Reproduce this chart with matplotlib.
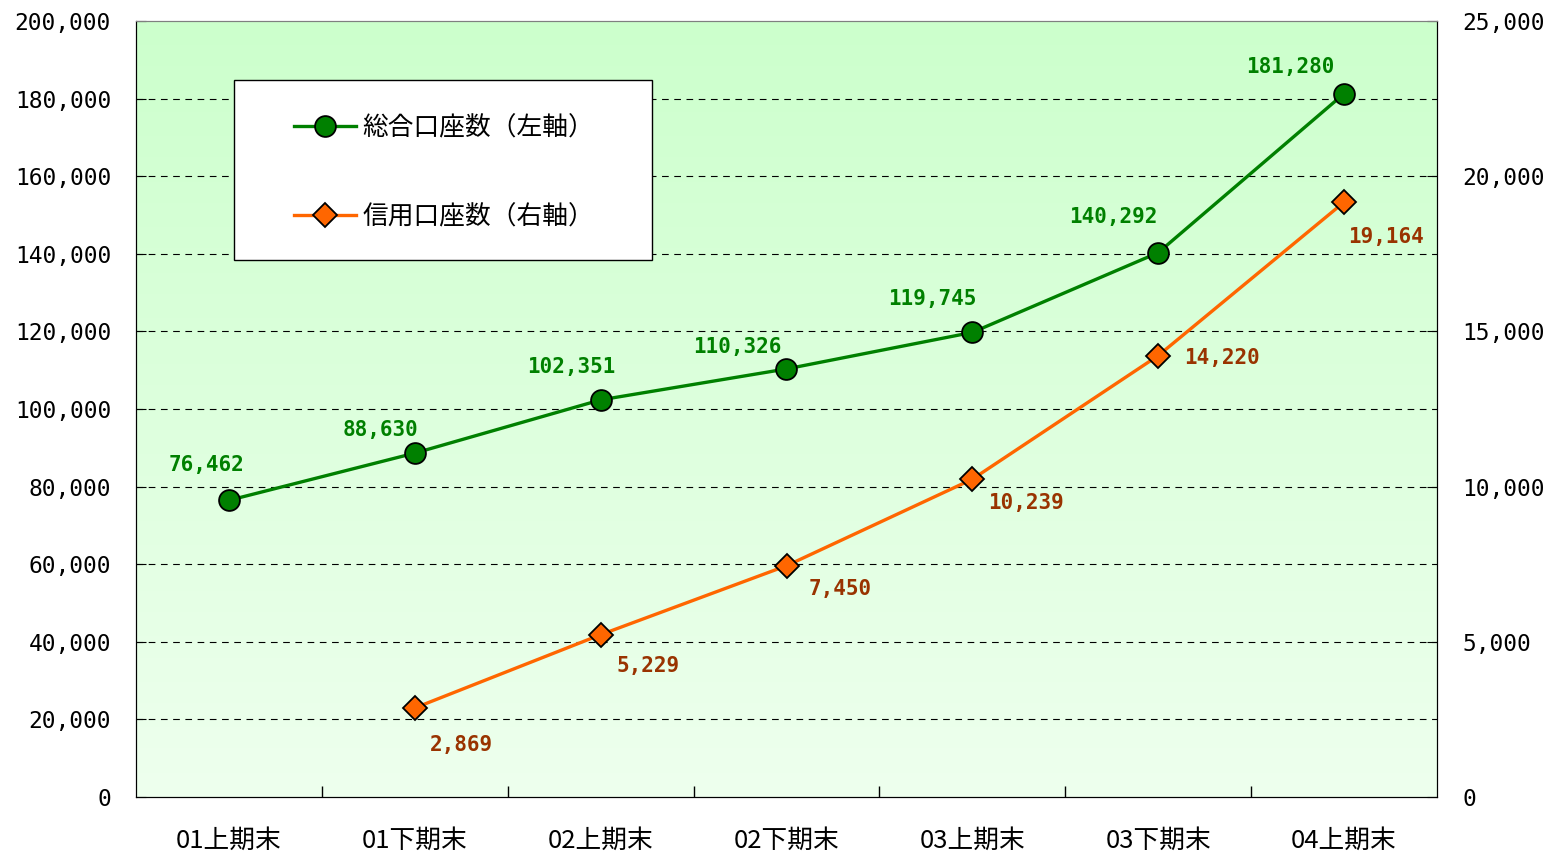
import matplotlib
matplotlib.use('Agg')
import matplotlib.pyplot as plt
from matplotlib.patches import Rectangle
import numpy as np

plt.rcParams['font.family'] = ['Noto Sans CJK JP', 'DejaVu Sans']

categories = ['01上期末', '01下期末', '02上期末', '02下期末', '03上期末', '03下期末', '04上期末']
total_accounts = [76462, 88630, 102351, 110326, 119745, 140292, 181280]
credit_categories = ['01下期末', '02上期末', '02下期末', '03上期末', '03下期末', '04上期末']
credit_accounts = [2869, 5229, 7450, 10239, 14220, 19164]
left_ticks = list(range(0, 200001, 20000))
right_ticks = list(range(0, 25001, 5000))

# label offsets in pixels (layout only)
total_off = [(-22, 35), (-34, 23), (-29, 33), (-49, 22), (-40, 33), (-45, 36), (-54, 27)]
credit_off = [(47, -37), (47, -31), (54, -23), (54, -24), (64, -2), (42, -35)]

green = '#008000'
orange = '#FF6600'
brown = '#993300'
numfont = 'DejaVu Sans Mono'

W, H = 1546, 851
fig = plt.figure(figsize=(W / 100, H / 100), dpi=100)
ax = fig.add_axes([136 / W, 1 - 797 / H, 1301 / W, 776 / H])
ax2 = ax.twinx()
ax2.patch.set_visible(False)

# gradient background
grad = np.linspace(0, 1, 256).reshape(-1, 1)
top = np.array([204, 255, 204]) / 255
bot = np.array([238, 255, 238]) / 255
img = top[None, None, :] * (1 - grad[:, :, None]) + bot[None, None, :] * grad[:, :, None]
ax.imshow(img, extent=[0, 1, 0, 1], transform=ax.transAxes, aspect='auto', zorder=0)

xs = np.arange(len(categories)) + 0.5
xc = np.array([categories.index(c) for c in credit_categories]) + 0.5

for y in left_ticks[1:-1]:
    ax.axhline(y, color='black', linestyle=(0, (6, 5)), linewidth=0.8, zorder=1)

l1, = ax.plot(xs, total_accounts, color=green, linewidth=2.4, marker='o', markersize=15,
              markerfacecolor=green, markeredgecolor='black', markeredgewidth=1.3, zorder=5,
              label='総合口座数（左軸）')
l2, = ax2.plot(xc, credit_accounts, color=orange, linewidth=2.4, marker='D', markersize=12,
               markerfacecolor=orange, markeredgecolor='black', markeredgewidth=1.3, zorder=5,
               label='信用口座数（右軸）')

for x, v, (dx, dy) in zip(xs, total_accounts, total_off):
    ax.annotate(f'{v:,}', (x, v), xytext=(dx, dy), textcoords='offset pixels',
                ha='center', va='center', color=green, fontsize=15, fontweight='bold',
                family=numfont, zorder=6)
for x, v, (dx, dy) in zip(xc, credit_accounts, credit_off):
    ax2.annotate(f'{v:,}', (x, v), xytext=(dx, dy), textcoords='offset pixels',
                 ha='center', va='center', color=brown, fontsize=15, fontweight='bold',
                 family=numfont, zorder=6)

ax.set_xlim(0, len(categories))
ax.set_ylim(0, 200000)
ax2.set_ylim(0, 25000)
ax.set_yticks(left_ticks)
ax.set_yticklabels([f'{t:,}' for t in left_ticks], family=numfont)
ax2.set_yticks(right_ticks)
ax2.set_yticklabels([f'{t:,}' for t in right_ticks], family=numfont)

ax.set_xticks(np.arange(1, len(categories)))
ax.set_xticklabels([])
ax.set_xticks(xs, minor=True)
ax.set_xticklabels(categories, minor=True)
ax.tick_params(axis='x', which='major', direction='in', length=8, width=1)
ax.tick_params(axis='x', which='minor', length=0, pad=22, labelsize=18.5)
ax.tick_params(axis='y', direction='in', length=7, labelsize=16.5, pad=18)
ax2.tick_params(axis='y', direction='in', length=7, labelsize=16.5, pad=18)

for a in (ax, ax2):
    a.spines['top'].set_color('#808080')
    a.spines['left'].set_color('black')
    a.spines['bottom'].set_color('black')
    a.spines['right'].set_color('black')

# legend box
box = Rectangle((234 / W, 1 - 260 / H), (652 - 234) / W, 180 / H, transform=fig.transFigure,
                facecolor='white', edgecolor='black', linewidth=1, zorder=8)
ax2.add_artist(box)
box.set_transform(fig.transFigure)
leg = ax2.legend(handles=[l1, l2], loc='upper left',
                 bbox_to_anchor=(294 / W, 1 - 115 / H), bbox_transform=fig.transFigure,
                 fontsize=18.5, frameon=False, borderpad=0, labelspacing=2.45,
                 handlelength=2.4, borderaxespad=0, handletextpad=0.25)
leg.set_zorder(10)

fig.savefig('out.png', dpi=100)
